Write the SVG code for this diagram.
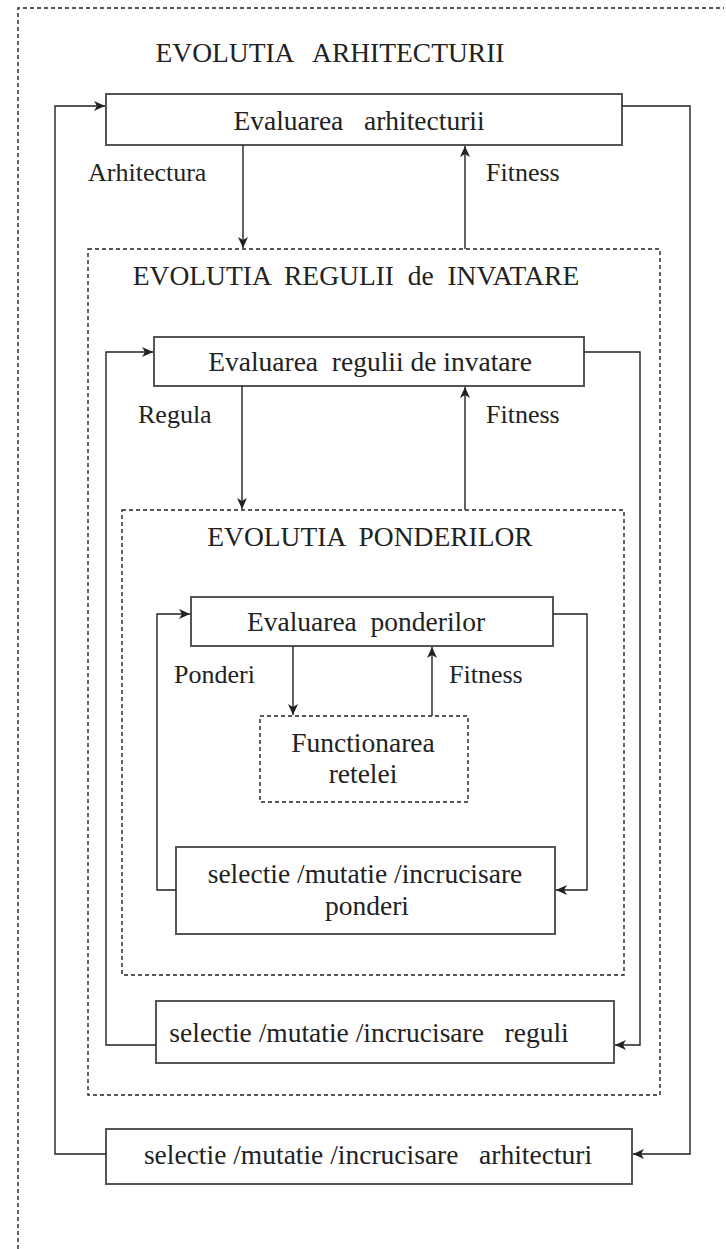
<svg xmlns="http://www.w3.org/2000/svg" width="726" height="1249" viewBox="0 0 726 1249">
<style>
text{font-family:"Liberation Serif","Times New Roman",Times,serif;font-size:27.5px;fill:#222;white-space:pre}
.m{text-anchor:middle}
.l{font-size:26px}
.box{fill:#fff;stroke:#555;stroke-width:2}
.dash{fill:none;stroke:#222;stroke-width:1.4;stroke-dasharray:4 3}
.c{fill:none;stroke:#222;stroke-width:1.4}
</style>
<defs>
<marker id="ah" viewBox="0 0 12 10" refX="11" refY="5" markerWidth="12" markerHeight="10" markerUnits="userSpaceOnUse" orient="auto">
<path d="M0,0 L11,5 L0,10 L3,5 Z" fill="#222"/>
</marker>
</defs>
<rect width="726" height="1249" fill="#fff"/>
<g id="evolutia-arhitecturii">
<path class="dash" d="M18,1249 V8 H724"/>
<text class="m" x="330" y="62" xml:space="preserve">EVOLUTIA   ARHITECTURII</text>
</g>
<g id="evaluarea-arhitecturii">
<rect class="box" x="106" y="94" width="516" height="51"/>
<text class="m" x="359" y="130" xml:space="preserve">Evaluarea   arhitecturii</text>
</g>
<g id="evolutia-regulii">
<rect class="dash" x="88" y="249" width="572" height="846"/>
<text class="m" x="356" y="285" xml:space="preserve">EVOLUTIA  REGULII  de  INVATARE</text>
</g>
<g id="evaluarea-regulii">
<rect class="box" x="154" y="337" width="430" height="49"/>
<text class="m" x="370" y="371" xml:space="preserve">Evaluarea  regulii de invatare</text>
</g>
<g id="evolutia-ponderilor">
<rect class="dash" x="122" y="510" width="502" height="465"/>
<text class="m" x="370" y="546" xml:space="preserve">EVOLUTIA  PONDERILOR</text>
</g>
<g id="evaluarea-ponderilor">
<rect class="box" x="191" y="597" width="362" height="49"/>
<text class="m" x="366" y="631" xml:space="preserve">Evaluarea  ponderilor</text>
</g>
<g id="functionarea-retelei">
<rect class="dash" x="260" y="716" width="208" height="86"/>
<text class="m" x="363" y="752">Functionarea</text>
<text class="m" x="363" y="783">retelei</text>
</g>
<g id="selectie-ponderi">
<rect class="box" x="176" y="847" width="379" height="87"/>
<text class="m" x="365" y="883">selectie /mutatie /incrucisare</text>
<text class="m" x="367" y="915">ponderi</text>
</g>
<g id="selectie-reguli">
<rect class="box" x="156" y="1001" width="458" height="62"/>
<text class="m" x="369" y="1042" xml:space="preserve">selectie /mutatie /incrucisare   reguli</text>
</g>
<g id="selectie-arhitecturi">
<rect class="box" x="106" y="1129" width="526" height="55"/>
<text class="m" x="368" y="1164" xml:space="preserve">selectie /mutatie /incrucisare   arhitecturi</text>
</g>
<g id="connectors">
<path class="c" d="M106,1154 H55 V106 H105" marker-end="url(#ah)"/>
<path class="c" d="M622,106 H690 V1154 H633" marker-end="url(#ah)"/>
<path class="c" d="M243,145 V248" marker-end="url(#ah)"/>
<path class="c" d="M465,249 V146" marker-end="url(#ah)"/>
<path class="c" d="M156,1045 H106 V352 H153" marker-end="url(#ah)"/>
<path class="c" d="M584,352 H640 V1045 H615" marker-end="url(#ah)"/>
<path class="c" d="M242,386 V509" marker-end="url(#ah)"/>
<path class="c" d="M465,510 V387" marker-end="url(#ah)"/>
<path class="c" d="M176,890 H157 V614 H190" marker-end="url(#ah)"/>
<path class="c" d="M553,614 H587 V890 H556" marker-end="url(#ah)"/>
<path class="c" d="M293,646 V715" marker-end="url(#ah)"/>
<path class="c" d="M432,716 V647" marker-end="url(#ah)"/>
<text class="l" x="88" y="181">Arhitectura</text>
<text class="l" x="486" y="181">Fitness</text>
<text class="l" x="138" y="423">Regula</text>
<text class="l" x="486" y="423">Fitness</text>
<text class="l" x="174" y="683">Ponderi</text>
<text class="l" x="449" y="683">Fitness</text>
</g>
</svg>
